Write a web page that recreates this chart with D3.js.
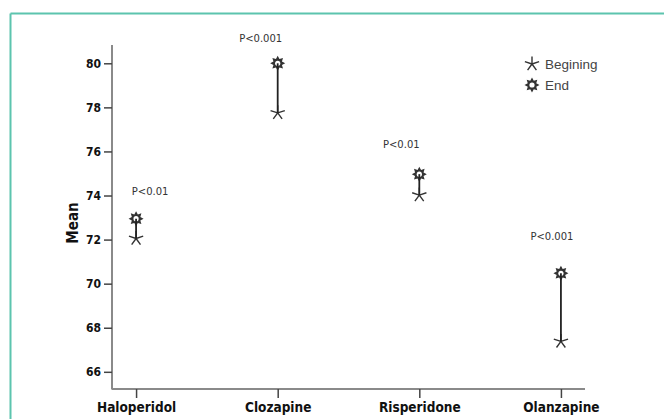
<!DOCTYPE html>
<html>
<head>
<meta charset="utf-8">
<script src="https://cdn.jsdelivr.net/npm/d3@7/dist/d3.min.js"></script>
<style>
  html, body { margin: 0; padding: 0; background: #fff; }
  svg { display: block; }
</style>
</head>
<body>
<svg id="chart" width="664" height="419"></svg>
<script>
// ---- data ----
const categories = ["Haloperidol", "Clozapine", "Risperidone", "Olanzapine"];
const beginValues = [72.05, 77.75, 74.02, 67.38];
const endValues = [72.95, 80.0, 74.97, 70.47];
const pLabels = ["P<0.01", "P<0.001", "P<0.01", "P<0.001"];
const yTicks = [66, 68, 70, 72, 74, 76, 78, 80];
const seriesNames = ["Begining", "End"];
const yTitle = "Mean";

// ---- layout (not data) ----
const pLabelDx = [14, -17, -18, -9];
const pLabelDy = [-27, -25, -30, -37];

const svg = d3.select("#chart");

// frame
svg.append("line").attr("x1", 10.5).attr("x2", 664).attr("y1", 13.5).attr("y2", 13.5)
  .attr("stroke", "#5cc4ae").attr("stroke-width", 2);
svg.append("line").attr("x1", 10.5).attr("x2", 10.5).attr("y1", 13.5).attr("y2", 419)
  .attr("stroke", "#5cc4ae").attr("stroke-width", 2);

const x = d3.scalePoint().domain(categories).range([112, 585]).padding(0.17);
const y = d3.scaleLinear().domain([65.22, 80.83]).range([389, 45]);

const axisColor = "#8a8a8a";
const tickFont = "'Liberation Sans Narrow', 'Arial Narrow', 'DejaVu Sans Condensed', sans-serif";

// Y axis
const yAxis = svg.append("g").attr("transform", "translate(112,0)")
  .call(d3.axisLeft(y).tickValues(yTicks).tickSize(8).tickPadding(3).tickFormat(d3.format("d")));
yAxis.select(".domain").attr("stroke", axisColor).attr("stroke-width", 2)
  .attr("d", `M0,${y.range()[1]}V${y.range()[0] + 0.5}`);
yAxis.selectAll(".tick line").attr("stroke", "#444").attr("stroke-width", 1.5);
yAxis.selectAll(".tick text").attr("fill", "#111")
  .style("font-family", tickFont).style("font-weight", "bold").style("font-size", "12px");

// X axis
const xAxis = svg.append("g").attr("transform", "translate(0,389)")
  .call(d3.axisBottom(x).tickSize(9).tickPadding(4));
xAxis.select(".domain").attr("stroke", axisColor).attr("stroke-width", 2)
  .attr("d", `M112,0H585`);
xAxis.selectAll(".tick line").attr("stroke", "#444").attr("stroke-width", 1.5);
xAxis.selectAll(".tick text").attr("fill", "#111")
  .style("font-family", tickFont).style("font-weight", "bold").style("font-size", "13.5px");

// Y title
svg.append("text")
  .attr("transform", `translate(78,${(y(65.22) + y(80.83)) / 2 + 6}) rotate(-90)`)
  .attr("text-anchor", "middle")
  .style("font-family", tickFont).style("font-weight", "bold").style("font-size", "15px")
  .attr("fill", "#111").text(yTitle);

// marker shapes
function starLines(r) {
  let d = "";
  for (let i = 0; i < 5; i++) {
    const a = -Math.PI / 2 + i * 2 * Math.PI / 5;
    d += `M0,0L${(r * Math.cos(a)).toFixed(2)},${(r * Math.sin(a)).toFixed(2)}`;
  }
  return d;
}
function burst(rOut, rIn, n) {
  const pts = [];
  for (let i = 0; i < n * 2; i++) {
    const a = -Math.PI / 2 + i * Math.PI / n;
    const r = i % 2 === 0 ? rOut : rIn;
    pts.push([r * Math.cos(a), r * Math.sin(a)]);
  }
  return "M" + pts.map(p => p[0].toFixed(2) + "," + p[1].toFixed(2)).join("L") + "Z";
}
function drawBegin(g) {
  g.append("path").attr("d", starLines(7.5)).attr("stroke", "#333").attr("stroke-width", 1.4)
    .attr("fill", "none");
}
function drawEnd(g) {
  g.append("path").attr("d", burst(7.5, 4.6, 8)).attr("fill", "#333");
  g.append("circle").attr("r", 2.6).attr("fill", "#fff");
}

const rows = categories.map((c, i) => ({ c, b: beginValues[i], e: endValues[i], p: pLabels[i], i }));

rows.forEach(d => {
  drawBegin(svg.append("g").attr("transform", `translate(${x(d.c)},${y(d.b)})`));
  drawEnd(svg.append("g").attr("transform", `translate(${x(d.c)},${y(d.e)})`));
  svg.append("line").attr("x1", x(d.c)).attr("x2", x(d.c))
    .attr("y1", y(d.e)).attr("y2", y(d.b)).attr("stroke", "#222").attr("stroke-width", 1.8);
  svg.append("text")
    .attr("x", x(d.c) + pLabelDx[d.i]).attr("y", y(d.e) + pLabelDy[d.i] + 3.5)
    .attr("text-anchor", "middle")
    .style("font-family", "'DejaVu Sans', Verdana, sans-serif").style("font-size", "10px")
    .attr("fill", "#333").text(d.p);
});

// legend
const legend = svg.append("g").attr("transform", "translate(532,64)");
seriesNames.forEach((name, i) => {
  const g = legend.append("g").attr("transform", `translate(0,${i * 21})`);
  const m = g.append("g");
  if (i === 0) drawBegin(m); else drawEnd(m);
  g.append("text").attr("x", 13).attr("y", 4.5)
    .style("font-family", "'Liberation Sans', Arial, sans-serif").style("font-size", "13.5px")
    .attr("fill", "#444").text(name);
});
</script>
</body>
</html>
